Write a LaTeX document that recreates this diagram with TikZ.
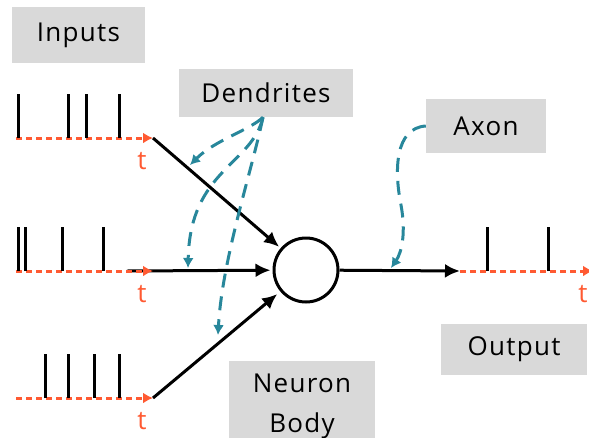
\documentclass[tikz,border=0pt]{standalone}
\usepackage{fontspec}
\setmainfont[LetterSpace=5]{Open Sans}
\usetikzlibrary{arrows.meta}

\definecolor{axisred}{RGB}{255,90,50}
\definecolor{dendteal}{RGB}{40,135,155}
\definecolor{boxgray}{RGB}{217,217,217}

\begin{document}
\begin{tikzpicture}[
    x=1pt,
    y=-1pt,
    tag/.style={
        fill=boxgray,
        align=center,
        inner sep=0pt,
        font=\fontsize{26}{40}\selectfont
    },
    tlabel/.style={
        text=axisred,
        inner sep=0pt,
        font=\fontsize{26}{30}\selectfont
    },
    timeaxis/.style={
        axisred,
        line width=3pt,
        dash pattern=on 6pt off 4pt,
        -{Latex[length=10pt,width=11pt]}
    },
    signal/.style={
        line width=3pt,
        -{Latex[length=15pt,width=14pt]},
        shorten >=2pt
    },
    spike/.style={
        line width=3pt
    },
    pointer/.style={
        dendteal,
        line width=3pt,
        dash pattern=on 14pt off 9pt,
        -{Latex[length=10pt,width=11pt]}
    }
]
\useasboundingbox (0,0) rectangle (589,437);

% labels
\node[tag, minimum width=133pt, minimum height=56pt] (inputs) at (78.5,35) {Inputs};
\node[tag, minimum width=174pt, minimum height=48pt] (dendrites) at (266,93) {Dendrites};
\node[tag, minimum width=120pt, minimum height=54pt] (axon) at (486,126) {Axon};
\node[tag, minimum width=146pt, minimum height=51pt] (output) at (514,349.5) {Output};
\node[tag, minimum width=146pt, minimum height=90pt] (nbody) at (302,406) {Neuron\\Body};

% neuron body
\node[circle, draw, line width=3pt, minimum size=64pt, inner sep=0pt] (body) at (306,270) {};

% axes
\coordinate (in1s) at (16,138);
\coordinate (in1e) at (153,138);
\coordinate (in2s) at (16,271);
\coordinate (in2e) at (153,271);
\coordinate (in2b) at (127,271);
\coordinate (in3s) at (16,398);
\coordinate (in3e) at (153,398);
\coordinate (outs) at (460,271);
\coordinate (oute) at (593,271);

\draw[signal] (in1e) -- (body);
\draw[signal] (in2b) -- (body);
\draw[signal, shorten >=4pt] (in3e) -- (body);
\draw[signal, shorten >=0pt] (body) -- (outs);

\draw[timeaxis] (in1s) -- (in1e);
\draw[timeaxis] (in2s) -- (in2e);
\draw[timeaxis] (in3s) -- (in3e);
\draw[timeaxis] (outs) -- (oute);

\node[tlabel] (t1) at (142,161) {t};
\node[tlabel] (t2) at (142,294) {t};
\node[tlabel] (t3) at (142,421) {t};
\node[tlabel] (t4) at (583,294) {t};

% spikes
\foreach \x in {18,68,86,119}
    \draw[spike] (\x,138) -- (\x,94);
\foreach \x in {18,25,62,103}
    \draw[spike] (\x,271) -- (\x,227);
\foreach \x in {45,68,94,119}
    \draw[spike] (\x,398) -- (\x,354);
\foreach \x in {487,548}
    \draw[spike] (\x,271) -- (\x,227);

% dendrites and axon pointers
\coordinate (ds) at ([xshift=-3pt]dendrites.south);
\coordinate (d1) at (190,165);
\coordinate (d2) at (188,268);
\coordinate (d3) at (218,335);
\coordinate (a1) at (391,268);

\draw[pointer] (ds) .. controls (250,130) and (215,140) .. (d1);
\draw[pointer] (ds) .. controls (252,165) and (190,170) .. (d2);
\draw[pointer] (ds) .. controls (252,170) and (222,260) .. (d3);
\draw[pointer] (axon.west) .. controls (395,128) and (394,170) .. (401,205)
    .. controls (406,232) and (402,252) .. (a1);

\end{tikzpicture}
\end{document}
